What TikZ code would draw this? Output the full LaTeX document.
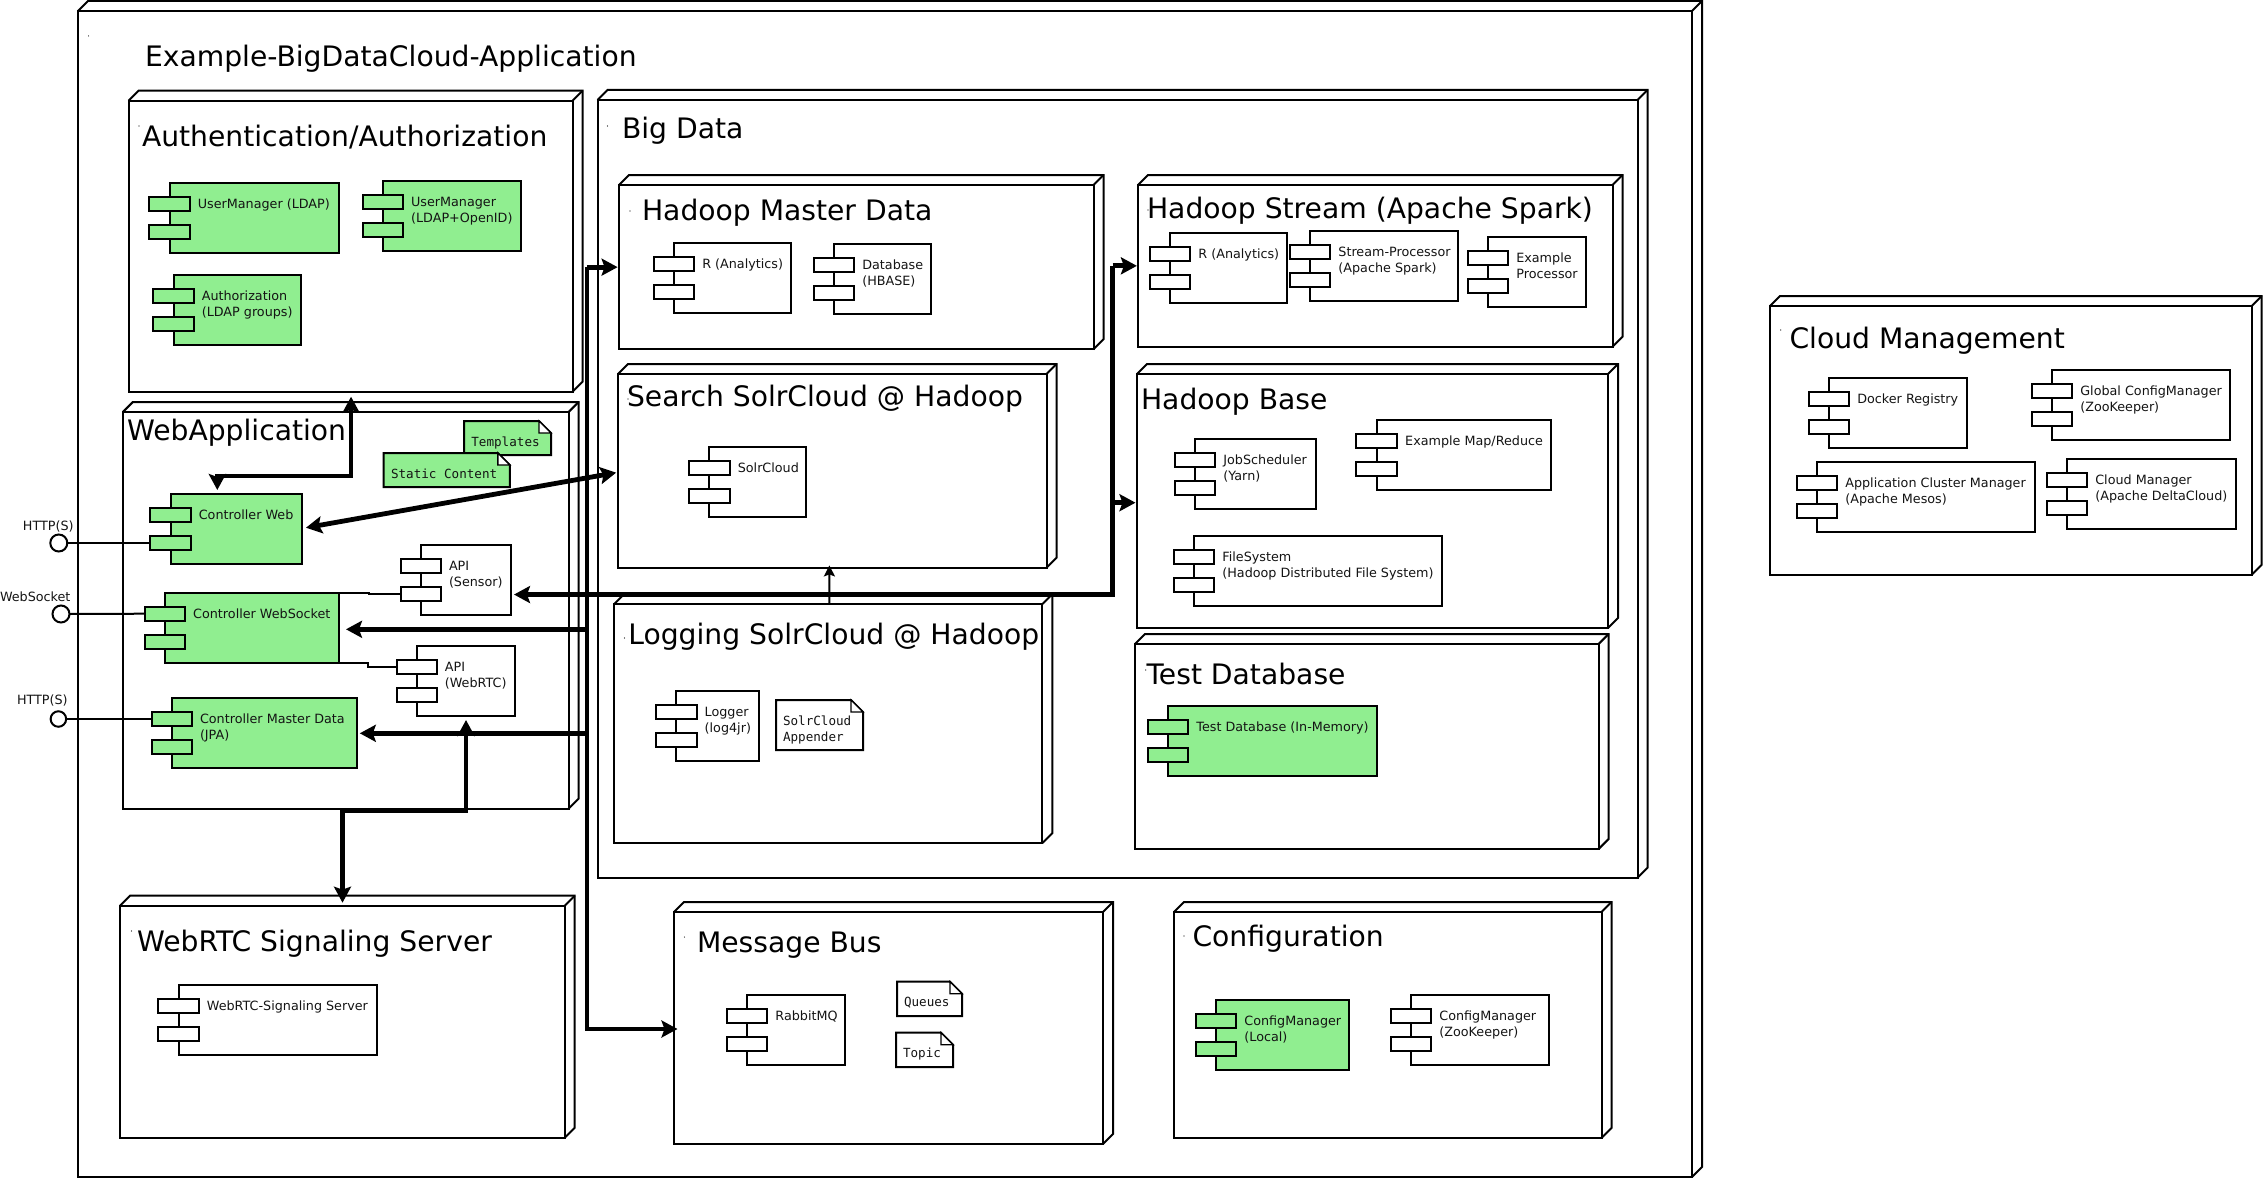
\documentclass[tikz,border=0pt]{standalone}
\usepackage{fontspec}
\setmainfont{DejaVu Sans}
\setmonofont{DejaVu Sans Mono}
\usetikzlibrary{arrows.meta,calc}
\definecolor{uigreen}{HTML}{90EE90}
\tikzset{
  box/.style={draw=black,line width=2pt,inner sep=0pt,outer sep=0pt,anchor=north west},
  facet/.style={draw=black,line width=2pt,line join=miter},
  titletext/.style={font=\fontsize{28.2}{33}\selectfont,anchor=base west,inner sep=0pt,outer sep=0pt},
  comptext/.style={font=\fontsize{12.75}{16}\selectfont,anchor=base west,inner sep=0pt,outer sep=0pt,text=black!92},
  monotext/.style={font=\ttfamily\fontsize{12.6}{16}\selectfont,anchor=base west,inner sep=0pt,outer sep=0pt,text=black!92},
  portbox/.style={draw=black,line width=2pt,inner sep=0pt,outer sep=0pt,minimum height=14pt,anchor=center},
  lolli/.style={draw=black,line width=2pt,circle,fill=white,inner sep=0pt,outer sep=0pt},
  thinwire/.style={line width=2pt,line join=miter},
  heavy/.style={line width=4.8pt,line join=miter,line cap=butt},
  headB/.style={-{Stealth[length=16pt,width=17pt,inset=3pt]}},
  headBB/.style={{Stealth[length=16pt,width=17pt,inset=3pt]}-{Stealth[length=16pt,width=17pt,inset=3pt]}},
  headT/.style={-{Stealth[length=11pt,width=11pt,inset=2pt]}},
}
% name x1 y1 x2 y2 titlex titlebaseline title
\newcommand\umlpkg[8]{%
  \node[box,minimum width={(#4-#2)*1pt},minimum height={(#5-#3)*1pt}] (#1) at (#2,#3) {};
  \draw[facet] (#1.north west) -- ++(10,-10) -| ([shift={(10,-10)}]#1.south east) -- (#1.south east);
  \draw[facet] (#1.north east) -- ++(10,-10);
  \node[titletext] (#1-title) at (#6,#7) {#8};
}
% name x1 y1 x2 fill half text
\newcommand\umlcomp[7]{%
  \node[box,fill=#5,minimum width={(#4-#2)*1pt},minimum height=70pt] (#1) at (#2,#3) {};
  \node[portbox,fill=#5,minimum width={2*#6*1pt}] (#1-p1) at ([yshift=-21pt]#1.north west) {};
  \node[portbox,fill=#5,minimum width={2*#6*1pt}] (#1-p2) at ([yshift=-49pt]#1.north west) {};
  \node[comptext] (#1-text) at ([shift={({#6+8},25.6)}]#1.north west) {#7};
}
% name x1 y1 x2 y2 fill textx texty text
\newcommand\umlnote[9]{%
  \node[inner sep=0pt,outer sep=0pt,anchor=north west,minimum width={(#4-#2)*1pt},minimum height={(#5-#3)*1pt}] (#1) at (#2,#3) {};
  \filldraw[facet,fill=#6] (#1.north west) -- ([xshift=-12pt]#1.north east) -- ([yshift=-12pt]#1.north east) -- (#1.south east) -- (#1.south west) -- cycle;
  \filldraw[line width=1.4pt,fill=white] ([xshift=-12pt]#1.north east) -- ([xshift=-12pt,yshift=-12pt]#1.north east) -- ([yshift=-12pt]#1.north east) -- cycle;
  \node[monotext] (#1-text) at (#7,#8) {#9};
}
\newcommand\twoln[2]{\vtop{\hbox{#1}\hbox{#2}}}
\begin{document}
\begin{tikzpicture}[x=1pt,y=-1pt]
\useasboundingbox (0,0) rectangle (2264,1180);
\fill[white] (0,0) rectangle (2264,1180);

% Packages
\umlpkg{outer}{78}{11}{1692}{1177}{145}{66.2}{Example-BigDataCloud-Application}
\umlpkg{auth}{128.6}{100.7}{572.5}{391.7}{142}{146.2}{Authentication/Authorization}
\umlpkg{webapp}{122.9}{412}{568.6}{808.7}{127}{440}{WebApplication}
\umlpkg{bigdata}{597.5}{100}{1637.5}{877.7}{622}{138.2}{Big Data}
\umlpkg{hmaster}{619}{185}{1093.5}{349.3}{642}{220.8}{Hadoop Master Data}
\umlpkg{search}{618}{374}{1046.5}{567.7}{627}{406.7}{Search SolrCloud @ Hadoop}
\umlpkg{logging}{614.3}{604}{1042.4}{843}{628.3}{644}{Logging SolrCloud @ Hadoop}
\umlpkg{hstream}{1137.9}{185}{1612.5}{346.7}{1147}{218}{Hadoop Stream (Apache Spark)}
\umlpkg{hbase}{1137}{374}{1608}{628}{1141}{409}{Hadoop Base}
\umlpkg{testdb}{1135}{644}{1598.6}{849}{1146.5}{684}{Test Database}
\umlpkg{signal}{120}{905.7}{564.7}{1137.7}{137}{951.2}{WebRTC Signaling Server}
\umlpkg{mbus}{674}{912}{1103}{1144}{697}{952.7}{Message Bus}
\umlpkg{config}{1174}{912}{1601.5}{1138}{1192.5}{946.5}{Configuration}
\umlpkg{cloud}{1770}{306}{2251.7}{574.7}{1789.5}{348.7}{Cloud Management}

% Tiny marks next to the titles
\foreach \mx/\my in {88.6/36,139/126,607.5/126,630/211,628/399,624.5/638,1148/210,1145.7/670,131.5/931,684.4/937,1184/936,1780.7/330}
  \fill (\mx,\my) circle (0.6);

% Components
\umlcomp{uldap}{169.6}{183}{339}{uigreen}{20.2}{UserManager (LDAP)}
\umlcomp{uopen}{382.9}{181}{521.4}{uigreen}{20.2}{\twoln{UserManager}{(LDAP+OpenID)}}
\umlcomp{authz}{173.6}{275}{301.4}{uigreen}{20.2}{\twoln{Authorization}{(LDAP groups)}}
\umlcomp{ctrlweb}{170.6}{494}{302}{uigreen}{20.2}{Controller Web}
\umlcomp{ctrlws}{165}{592.7}{338.8}{uigreen}{20.2}{Controller WebSocket}
\umlcomp{ctrlmd}{171.8}{698}{357}{uigreen}{20.2}{\twoln{Controller Master Data}{(JPA)}}
\umlcomp{apisens}{420.8}{544.7}{511}{white}{20.2}{\twoln{API}{(Sensor)}}
\umlcomp{apirtc}{416.7}{646}{515}{white}{20.2}{\twoln{API}{(WebRTC)}}
\umlcomp{manal}{673.9}{243}{791}{white}{20.4}{R (Analytics)}
\umlcomp{hbasedb}{833.9}{244}{931}{white}{20.4}{\twoln{Database}{(HBASE)}}
\umlcomp{solr}{709.4}{447}{806}{white}{20.4}{SolrCloud}
\umlcomp{logger}{676.3}{691}{759}{white}{20.4}{\twoln{Logger}{(log4jr)}}
\umlcomp{sanal}{1170}{232.7}{1287}{white}{20.4}{R (Analytics)}
\umlcomp{spark}{1310}{230.7}{1458}{white}{20.4}{\twoln{Stream-Processor}{(Apache Spark)}}
\umlcomp{exproc}{1487.9}{237}{1586.4}{white}{20.4}{\twoln{Example}{Processor}}
\umlcomp{yarn}{1195}{439}{1316.4}{white}{20.4}{\twoln{JobScheduler}{(Yarn)}}
\umlcomp{mapred}{1376.8}{420}{1551.4}{white}{20.4}{Example Map/Reduce}
\umlcomp{hdfs}{1194}{536}{1442}{white}{20.4}{\twoln{FileSystem}{(Hadoop Distributed File System)}}
\umlcomp{memdb}{1168}{706}{1377}{uigreen}{20.4}{Test Database (In-Memory)}
\umlcomp{sigsrv}{178.5}{985}{377}{white}{20.4}{WebRTC-Signaling Server}
\umlcomp{rabbit}{747}{995}{844.8}{white}{20.4}{RabbitMQ}
\umlcomp{cflocal}{1216}{1000}{1349}{uigreen}{20.4}{\twoln{ConfigManager}{(Local)}}
\umlcomp{cfzoo}{1411}{994.5}{1549}{white}{20.4}{\twoln{ConfigManager}{(ZooKeeper)}}
\umlcomp{docker}{1829}{378}{1967.3}{white}{20.3}{Docker Registry}
\umlcomp{globalcfg}{2052}{369.7}{2230.3}{white}{20.3}{\twoln{Global ConfigManager}{(ZooKeeper)}}
\umlcomp{mesos}{1817}{462}{2035.3}{white}{20.3}{\twoln{Application Cluster Manager}{(Apache Mesos)}}
\umlcomp{delta}{2067}{459}{2236.3}{white}{20.3}{\twoln{Cloud Manager}{(Apache DeltaCloud)}}

% Notes
\umlnote{templates}{464}{421}{551}{455}{uigreen}{471.4}{446}{Templates}
\umlnote{staticc}{383.7}{453}{509.8}{487}{uigreen}{391}{478}{Static Content}
\umlnote{appender}{776}{700}{863}{750}{white}{783}{725}{\twoln{SolrCloud}{Appender}}
\umlnote{queues}{897}{981.7}{962}{1016}{white}{904}{1006.7}{Queues}
\umlnote{topic}{896}{1032.7}{953}{1067}{white}{903}{1057.7}{Topic}

% Lollipops
\node[lolli,minimum size=17pt] (ifweb) at (58.8,543) {};
\node[lolli,minimum size=17pt] (ifws) at (61,614) {};
\node[lolli,minimum size=15.5pt] (ifmd) at (58.4,719) {};
\node[comptext] (ifweb-l) at (23,530) {HTTP(S)};
\node[comptext] (ifws-l) at (0,601.7) {WebSocket};
\node[comptext] (ifmd-l) at (17,704) {HTTP(S)};
\draw[thinwire] (ifweb.east) -- (ctrlweb-p2.west);
\draw[thinwire] (ifws.east) -- (ctrlws-p1.west);
\draw[thinwire] (ifmd.east) -- (ctrlmd-p1.west);

% API links
\draw[thinwire] (apisens-p2.west) -- ++(-31.4,0) |- (ctrlws.north east);
\draw[thinwire] (apirtc-p1.west) -- ++(-28.5,0) |- (ctrlws.south east);

% Heavy connectors
\coordinate (busx) at (587,0);
\coordinate (sparkx) at (1112.5,0);

\coordinate (authtip) at ([shift={(0.5,5)}]auth.south);
\coordinate (webtip) at ([shift={(-19,-4)}]ctrlweb.north);
\draw[heavy,headBB] (authtip) -- (authtip |- 0,476) -- (webtip |- 0,476) -- (webtip);

\draw[heavy,headBB] ([shift={(4,-1.3)}]ctrlweb.east) -- ([shift={(-1.8,1.8)}]search.west);

\coordinate (hmtip) at ([shift={(-1.4,0)}]hmaster.west);
\coordinate (mbtip) at ([shift={(3.5,1)}]mbus.west);
\draw[heavy,headB] (busx |- hmtip) -- (hmtip);
\draw[heavy,headB] (busx |- hmtip) -- (busx |- mbtip) -- (mbtip);

\coordinate (wstip) at ([shift={(7.2,1.6)}]ctrlws.east);
\draw[heavy,headB] (busx |- wstip) -- (wstip);
\coordinate (mdtip) at ([shift={(2.8,0.3)}]ctrlmd.east);
\draw[heavy,headB] (busx |- mdtip) -- (mdtip);

\coordinate (senstip) at ([shift={(3,14.85)}]apisens.east);
\coordinate (hstip) at ([shift={(-1,0)}]hstream.west);
\coordinate (hbtip) at ([shift={(-1.5,1.7)}]hbase.west);
\draw[heavy,headB] (sparkx |- hstip) -- (sparkx |- senstip) -- (senstip);
\draw[heavy,headB] (sparkx |- hstip) -- (hstip);
\draw[heavy,headB] (sparkx |- hbtip) -- (hbtip);

\coordinate (rtctip) at ([shift={(0.15,4)}]apirtc.south);
\coordinate (sigtip) at ([shift={(0.15,-3)}]signal.north);
\draw[heavy,headBB] (rtctip) -- (rtctip |- 0,811) -- (sigtip |- 0,811) -- (sigtip);

\draw[thinwire,headT] ([xshift=1pt]logging.north) -- ([shift={(1.05,-2.3)}]logging.north |- search.south);
\end{tikzpicture}
\end{document}
